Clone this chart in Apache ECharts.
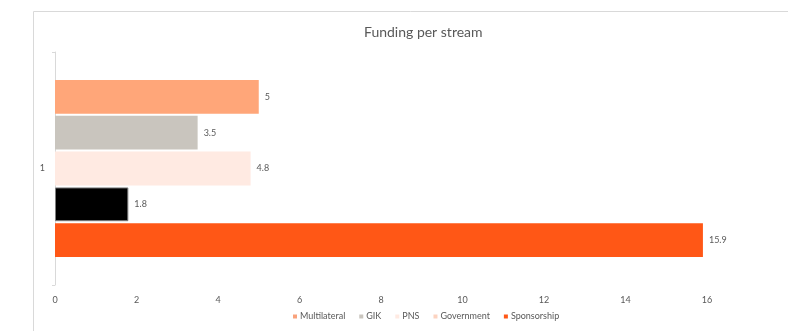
<!DOCTYPE html>
<html><head><meta charset="utf-8">
<script src="https://cdn.jsdelivr.net/npm/echarts@6/dist/echarts.min.js"></script>
<style>html,body{margin:0;padding:0;background:#fff}#c{width:788px;height:331px}</style>
</head><body><div id="c"></div>
<script>
const categories = ['1'];
const seriesNames = ['Multilateral', 'GIK', 'PNS', 'Government', 'Sponsorship'];
const multilateral = [5];
const gik = [3.5];
const pns = [4.8];
const government = [1.8];
const sponsorship = [15.9];
const xTicks = [0, 2, 4, 6, 8, 10, 12, 14, 16];

const barColors = ['#FFA679', '#C9C5BE', '#FFEAE2', '#000000', '#FF5716'];
const legendColors = ['#F9A27C', '#C9C5BE', '#FFEAE2', '#FCD3C0', '#FF5716'];
const values = [multilateral, gik, pns, government, sponsorship];
const font = 'Lato, "Open Sans", sans-serif';
const txt = '#595959';

const chart = echarts.init(document.getElementById('c'));
chart.setOption({
  animation: false,
  title: {text: 'Funding per stream', left: 359, top: 20,
    textStyle: {fontFamily: font, fontSize: 14, fontWeight: 'normal', color: txt}},
  legend: {
    bottom: 5, left: 288, itemWidth: 4, itemHeight: 4, itemGap: 14, icon: 'rect',
    textStyle: {fontFamily: font, fontSize: 9, color: txt, padding: [0, 0, 0, -2]},
    data: seriesNames.map((n, i) => ({name: n, itemStyle: {color: legendColors[i], borderWidth: 0}}))
  },
  grid: {left: 55, right: 81, top: 52, bottom: 46, containLabel: false},
  xAxis: {type: 'value', min: xTicks[0], max: xTicks[xTicks.length - 1], interval: 2,
    axisLine: {show: false}, axisTick: {show: false}, splitLine: {show: false},
    axisLabel: {fontFamily: font, fontSize: 9, color: txt, margin: 11}},
  yAxis: {type: 'category', data: categories, inverse: true,
    axisLine: {show: true, lineStyle: {color: '#D9D9D9'}},
    axisTick: {show: true, length: 3, lineStyle: {color: '#D9D9D9'}},
    axisLabel: {fontFamily: font, fontSize: 9, color: txt, margin: 10}},
  series: seriesNames.map((n, i) => ({
    name: n, type: 'bar', data: values[i], barGap: '6%', barCategoryGap: '24%',
    itemStyle: {color: barColors[i], borderColor: i === 3 ? '#7F7F7F' : 'transparent', borderWidth: i === 3 ? 1 : 0},
    label: {show: true, position: 'right', distance: 6, fontFamily: font, fontSize: 9, color: txt}
  })),
  graphic: [{type: 'polyline', silent: true, shape: {points: [[33.5, 331], [33.5, 11.5], [788, 11.5]]},
    style: {stroke: '#D9D9D9', lineWidth: 1, fill: null}}]
});
</script></body></html>
